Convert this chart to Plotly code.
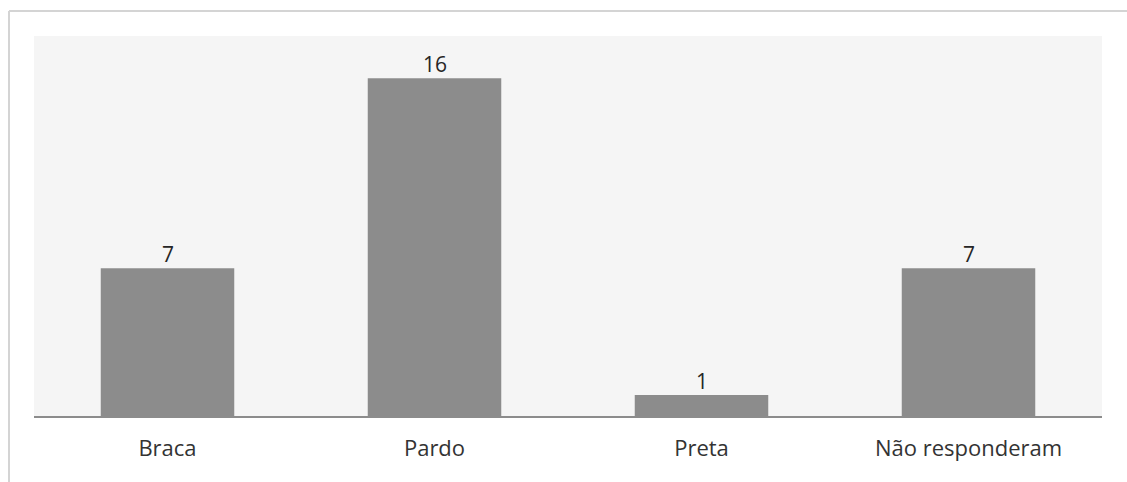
import plotly.graph_objects as go

categories = ["Braca", "Pardo", "Preta", "Não responderam"]
values = [7, 16, 1, 7]

W, H = 1127, 482
L, R, T, B = 34, 25, 36, 66
pw, ph = W - L - R, H - T - B

def px_x(x):
    return (x - L) / pw

def px_y(y):
    return (H - B - y) / ph

fig = go.Figure(go.Bar(
    x=categories, y=values, width=0.5,
    marker=dict(color="#8c8c8c", line=dict(width=0)),
    hoverinfo="x+y",
))

for c, v in zip(categories, values):
    fig.add_annotation(x=c, y=v, text=str(v), showarrow=False,
                       yanchor="bottom", yshift=-2,
                       font=dict(family="Open Sans", size=21, color="#262626"))

fig.update_layout(
    width=W, height=H,
    margin=dict(l=L, r=R, t=T, b=B),
    paper_bgcolor="white", plot_bgcolor="#f5f5f5",
    showlegend=False,
    xaxis=dict(showline=True, linecolor="#8c8c8c", linewidth=2,
               ticks="outside", ticklen=12, tickcolor="rgba(0,0,0,0)",
               tickfont=dict(family="Open Sans", size=22, color="#333333"),
               showgrid=False, zeroline=False, fixedrange=True),
    yaxis=dict(range=[0, 18], visible=False, showgrid=False, zeroline=False),
    shapes=[
        dict(type="line", xref="paper", yref="paper",
             x0=px_x(9), x1=px_x(W + 5), y0=px_y(11), y1=px_y(11),
             line=dict(color="#d4d4d4", width=2)),
        dict(type="line", xref="paper", yref="paper",
             x0=px_x(9), x1=px_x(9), y0=px_y(11), y1=px_y(H + 5),
             line=dict(color="#d4d4d4", width=2)),
    ],
)

fig.write_html("out.html")
